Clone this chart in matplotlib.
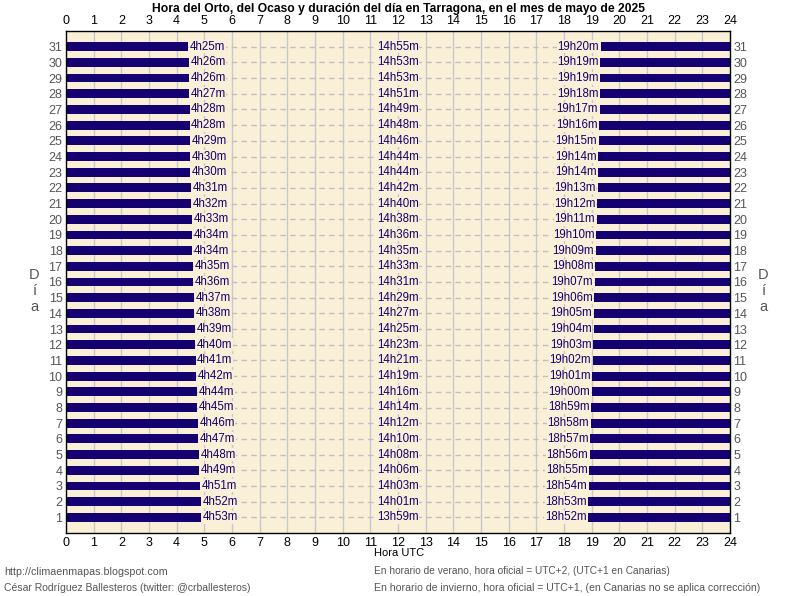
import matplotlib
matplotlib.use("Agg")
import matplotlib.pyplot as plt
import numpy as np

days = list(range(1, 32))
sunrise = ["4h53m","4h52m","4h51m","4h49m","4h48m","4h47m","4h46m","4h45m","4h44m","4h42m",
           "4h41m","4h40m","4h39m","4h38m","4h37m","4h36m","4h35m","4h34m","4h34m","4h33m",
           "4h32m","4h31m","4h30m","4h30m","4h29m","4h28m","4h28m","4h27m","4h26m","4h26m","4h25m"]
sunset = ["18h52m","18h53m","18h54m","18h55m","18h56m","18h57m","18h58m","18h59m","19h00m","19h01m",
          "19h02m","19h03m","19h04m","19h05m","19h06m","19h07m","19h08m","19h09m","19h10m","19h11m",
          "19h12m","19h13m","19h14m","19h14m","19h15m","19h16m","19h17m","19h18m","19h19m","19h19m","19h20m"]
duration = ["13h59m","14h01m","14h03m","14h06m","14h08m","14h10m","14h12m","14h14m","14h16m","14h19m",
            "14h21m","14h23m","14h25m","14h27m","14h29m","14h31m","14h33m","14h35m","14h36m","14h38m",
            "14h40m","14h42m","14h44m","14h44m","14h46m","14h48m","14h49m","14h51m","14h53m","14h53m","14h55m"]
hours = list(range(0, 25))

def to_hours(s):
    h, m = s.rstrip("m").split("h")
    return int(h) + int(m) / 60.0

rise_h = np.array([to_hours(s) for s in sunrise])
set_h = np.array([to_hours(s) for s in sunset])

plt.rcParams['font.family'] = ['Liberation Sans', 'DejaVu Sans']

BAR = "#140070"
BG = "#faf0d7"
TXT = "#140070"
GRAY = "#555555"

fig = plt.figure(figsize=(7.96, 5.96), dpi=100)
renderer = fig.canvas.get_renderer()

def fit(t, target_px):
    w = t.get_window_extent(renderer=renderer).width
    t.set_fontsize(t.get_fontsize() * target_px / w)
    return t.get_fontsize()

ax = fig.add_axes([66/796, 1-533/596, 664/796, 502/596])
ax.set_facecolor(BG)
ax.set_xlim(0, 24)
ax.set_ylim(0, 32)

for x in hours[1:-1]:
    ax.axvline(x, color="#c8c8c8", lw=1, zorder=1)
for d in days:
    ax.axhline(d, color="#c0c0c0", lw=1, ls=(0, (4, 3)), zorder=1)

bh = 0.56
ax.barh(days, rise_h, left=0, height=bh, color=BAR, zorder=2)
ax.barh(days, 24 - set_h, left=set_h, height=bh, color=BAR, zorder=2)

lab_fs = 8.3

for d, r, s, rs, ss, du in zip(days, rise_h, set_h, sunrise, sunset, duration):
    ax.text(r + 0.06, d, rs, ha="left", va="center", fontsize=lab_fs, color=TXT, zorder=3,
            bbox=dict(facecolor=BG, edgecolor="none", pad=0.3))
    ax.text(s - 0.06, d, ss, ha="right", va="center", fontsize=lab_fs, color=TXT, zorder=3,
            bbox=dict(facecolor=BG, edgecolor="none", pad=0.3))
    ax.text(12, d, du, ha="center", va="center", fontsize=lab_fs, color=TXT, zorder=3,
            bbox=dict(facecolor=BG, edgecolor="none", pad=0.3))

ax.set_xticks(hours)
ax.set_yticks(days)
ax.set_yticklabels([str(d) for d in days])
ax.tick_params(axis="x", which="both", length=0, labelsize=9, pad=3, top=True, labeltop=True)
ax.tick_params(axis="y", which="both", length=0, labelsize=9, pad=2.5, right=True, labelright=True,
               labelcolor=GRAY)
for sp in ax.spines.values():
    sp.set_color("black")
    sp.set_linewidth(1)

t = fig.text(398/796, 1-9/596, "Hora del Orto, del Ocaso y duración del día en Tarragona, en el mes de mayo de 2025",
             ha="center", va="center", fontsize=9, fontweight="bold")
fit(t, 491)
t = fig.text(374/796, 1-553/596, "Hora UTC", ha="left", va="center", fontsize=9)
fit(t, 50)
t = fig.text(4/796, 1-572/596, "http://climaenmapas.blogspot.com", ha="left", va="center", fontsize=9, color=GRAY)
fit(t, 162)
t = fig.text(4/796, 1-588/596, "César Rodríguez Ballesteros (twitter: @crballesteros)", ha="left", va="center",
             fontsize=9, color=GRAY)
fit(t, 246)
t = fig.text(374/796, 1-571/596, "En horario de verano, hora oficial = UTC+2, (UTC+1 en Canarias)", ha="left",
             va="center", fontsize=9, color=GRAY)
fit(t, 296)
t = fig.text(374/796, 1-588/596, "En horario de invierno, hora oficial = UTC+1, (en Canarias no se aplica corrección)",
             ha="left", va="center", fontsize=9, color=GRAY)
fit(t, 388)

for i, ch in enumerate("Día"):
    fig.text(34/796, 1-(275 + i*16)/596, ch, ha="center", va="center", fontsize=10.5, color=GRAY)
    fig.text(763/796, 1-(275 + i*16)/596, ch, ha="center", va="center", fontsize=10.5, color=GRAY)

fig.savefig("out.png", dpi=100)
